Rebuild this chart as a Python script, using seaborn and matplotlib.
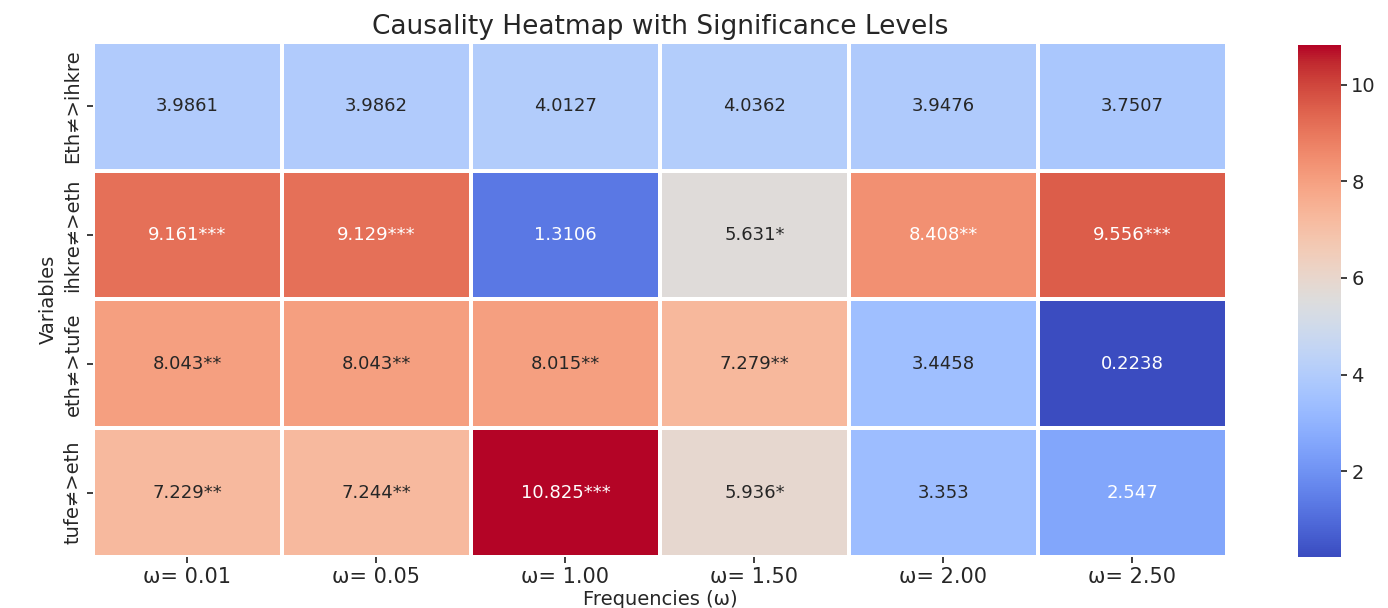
import matplotlib
matplotlib.use("Agg")
import matplotlib.pyplot as plt
import seaborn as sns
import pandas as pd
import numpy as np

# Data
variables = ['Eth≠>ihkre', 'ihkre≠>eth', 'eth≠>tufe', 'tufe≠>eth']
frequencies = ['ω= 0.01', 'ω= 0.05', 'ω= 1.00', 'ω= 1.50', 'ω= 2.00', 'ω= 2.50']

eth_ihkre = [3.9861, 3.9862, 4.0127, 4.0362, 3.9476, 3.7507]
ihkre_eth = [9.161, 9.129, 1.3106, 5.631, 8.408, 9.556]
eth_tufe = [8.043, 8.043, 8.015, 7.279, 3.4458, 0.2238]
tufe_eth = [7.229, 7.244, 10.825, 5.936, 3.353, 2.547]

# significance stars per cell
stars_eth_ihkre = ['', '', '', '', '', '']
stars_ihkre_eth = ['***', '***', '', '*', '**', '***']
stars_eth_tufe = ['**', '**', '**', '**', '', '']
stars_tufe_eth = ['**', '**', '***', '*', '', '']

df = pd.DataFrame([eth_ihkre, ihkre_eth, eth_tufe, tufe_eth],
                  index=variables, columns=frequencies)
stars = [stars_eth_ihkre, stars_ihkre_eth, stars_eth_tufe, stars_tufe_eth]

annot = np.empty(df.shape, dtype=object)
for i in range(df.shape[0]):
    for j in range(df.shape[1]):
        annot[i, j] = f"{df.iloc[i, j]:g}{stars[i][j]}"

sns.set_theme(style="white")
plt.rcParams['font.family'] = ['DejaVu Sans']

fig = plt.figure(figsize=(13.88, 6.08), dpi=100)
ax = fig.add_axes([0.067, 0.084, 0.817, 0.847])
cax = fig.add_axes([0.935, 0.084, 0.031, 0.842])

sns.heatmap(df, annot=annot, fmt='', cmap='coolwarm', linewidths=1.5,
            linecolor='white', ax=ax, cbar_ax=cax,
            annot_kws={'fontsize': 13})

ax.set_title('Causality Heatmap with Significance Levels', fontsize=19)
ax.set_xlabel('Frequencies (ω)', fontsize=14, labelpad=2)
ax.set_ylabel('Variables', fontsize=14)
ax.tick_params(axis='x', labelsize=15, length=4, bottom=True)
ax.tick_params(axis='y', labelsize=14, length=4, left=True)
plt.setp(ax.get_yticklabels(), rotation=90, va='center')
cax.tick_params(labelsize=14, length=4, right=True)

fig.savefig('out.png', dpi=100)
